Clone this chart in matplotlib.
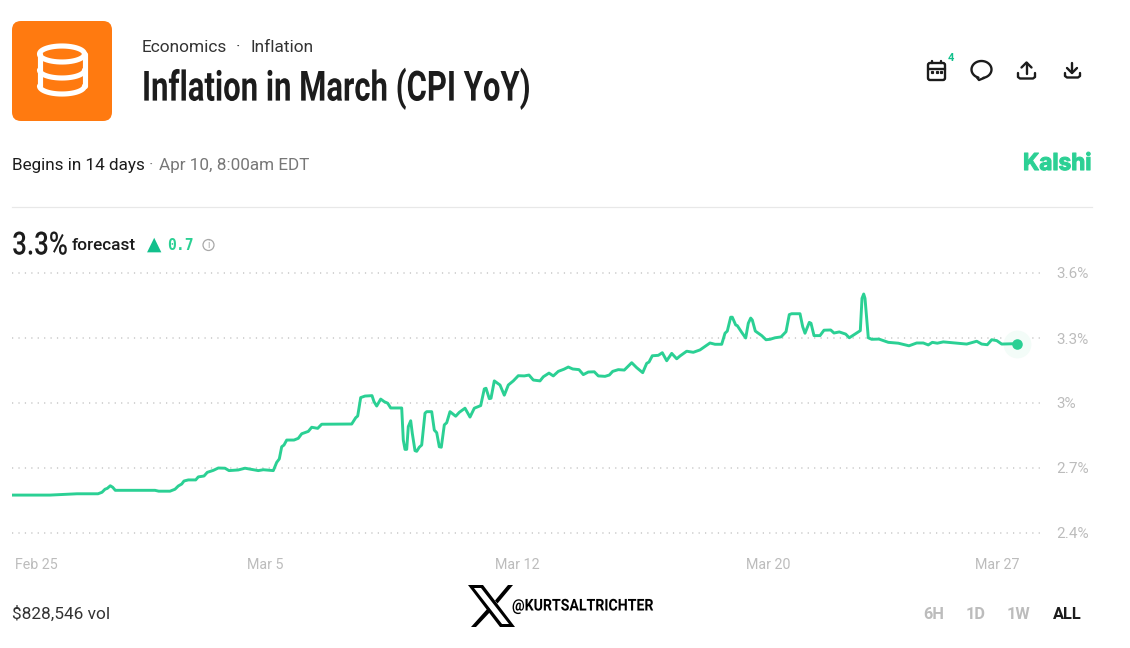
import numpy as np
import matplotlib
matplotlib.use("Agg")
import matplotlib.pyplot as plt
from matplotlib.patches import Circle, FancyBboxPatch, Polygon
from matplotlib.patheffects import AbstractPathEffect
from matplotlib.transforms import Affine2D

# Forecast line: position along the time axis and CPI YoY forecast (%)
positions = [0, 38, 65, 86, 90, 93, 95.3, 98.3, 100.7, 103.3, 143, 146.7, 158, 163, 166.3, 169.7,
             172, 176.3, 183.7, 186.3, 192, 195.3, 201.3, 206.3, 213, 217, 226.3, 233, 238, 246.3,
             251.3, 261.3, 264.7, 267.3, 269.7, 272, 274.7, 282, 286.3, 289.7, 296.3, 299.7, 305.7,
             309.7, 339.7, 343.7, 345.7, 348.7, 353, 360, 362, 364.7, 368.7, 372.3, 375.7, 378.7,
             389.7, 391.3, 393, 394.7, 396.3, 398.7, 400.3, 403, 404.7, 407.3, 409.7, 413, 414.7,
             419.7, 422.3, 424.7, 427.3, 429.3, 432.3, 434.7, 438, 443.7, 447.3, 453, 458, 462.3,
             468.7, 472.3, 474, 477.3, 479, 482.3, 488, 492.3, 496.3, 501.3, 506.3, 512.3, 517,
             521.3, 528, 531.3, 537, 541.3, 546.3, 552, 556.3, 560.7, 567, 571.3, 576.3, 582.3,
             586.3, 593, 597.3, 600.7, 606.3, 612.3, 615.3, 619.7, 624.7, 630.7, 634.7, 637, 640.3,
             646.3, 650.3, 654.7, 659.7, 664.7, 668, 674.7, 681.3, 688, 698, 703, 709.7, 713, 715.3,
             718.7, 720.3, 723.7, 725.3, 729.7, 733.7, 736.3, 738.7, 740.3, 743.3, 749.7, 754, 758,
             763, 769, 774, 777.3, 779.7, 788, 790.7, 793, 797.3, 799, 802, 808, 812, 818.7, 822,
             827.3, 833.7, 837.3, 844.7, 848.3, 850, 851.7, 853, 856.3, 859.7, 867, 876.3, 886.3,
             897, 904.7, 911.3, 916.3, 920.3, 925.3, 931.3, 954.7, 964.7, 969.7, 975.3, 979.7,
             984.7, 989.7, 1005.3]
forecast = [2.575, 2.575, 2.581, 2.581, 2.588, 2.602, 2.606, 2.618, 2.611, 2.597, 2.597, 2.593,
            2.593, 2.602, 2.617, 2.626, 2.640, 2.645, 2.645, 2.659, 2.663, 2.680, 2.689, 2.700,
            2.699, 2.688, 2.691, 2.699, 2.695, 2.688, 2.692, 2.688, 2.726, 2.742, 2.798, 2.806,
            2.829, 2.829, 2.837, 2.858, 2.869, 2.888, 2.883, 2.902, 2.903, 2.932, 2.940, 3.025,
            3.032, 3.034, 3.006, 2.986, 3.018, 3.006, 2.999, 2.977, 2.977, 2.829, 2.786, 2.786,
            2.891, 2.918, 2.860, 2.780, 2.777, 2.796, 2.806, 2.953, 2.960, 2.960, 2.875, 2.863,
            2.798, 2.796, 2.899, 2.909, 2.960, 2.939, 2.957, 2.976, 2.935, 2.976, 2.988, 3.065,
            3.068, 3.020, 3.022, 3.102, 3.083, 3.036, 3.083, 3.102, 3.126, 3.125, 3.129, 3.106,
            3.102, 3.121, 3.138, 3.125, 3.146, 3.156, 3.166, 3.157, 3.154, 3.131, 3.143, 3.144,
            3.125, 3.123, 3.129, 3.146, 3.154, 3.152, 3.166, 3.186, 3.163, 3.140, 3.183, 3.189,
            3.218, 3.220, 3.232, 3.195, 3.229, 3.204, 3.217, 3.239, 3.234, 3.245, 3.277, 3.271,
            3.271, 3.322, 3.332, 3.396, 3.396, 3.360, 3.357, 3.326, 3.300, 3.368, 3.392, 3.383,
            3.332, 3.311, 3.292, 3.294, 3.301, 3.305, 3.329, 3.408, 3.412, 3.412, 3.352, 3.322,
            3.372, 3.368, 3.311, 3.311, 3.336, 3.337, 3.323, 3.328, 3.318, 3.301, 3.323, 3.334,
            3.483, 3.503, 3.483, 3.301, 3.294, 3.295, 3.280, 3.276, 3.264, 3.277, 3.277, 3.268,
            3.280, 3.276, 3.282, 3.272, 3.285, 3.272, 3.269, 3.292, 3.288, 3.272, 3.274]

y_ticks = [2.4, 2.7, 3.0, 3.3, 3.6]
y_labels = ["2.4%", "2.7%", "3%", "3.3%", "3.6%"]
x_ticks = [24, 253, 505, 756, 985]
x_labels = ["Feb 25", "Mar 5", "Mar 12", "Mar 20", "Mar 27"]
ranges = ["6H", "1D", "1W", "ALL"]

GREEN = "#2bd094"
GREY = "#bcbcbc"
DARK = "#1c1c1c"
W, H = 1130, 648
SANS = ["Roboto", "DejaVu Sans"]

fig = plt.figure(figsize=(W / 100, H / 100), dpi=100, facecolor="white")

# page furniture in pixel coordinates
page = fig.add_axes([0, 0, 1, 1])
page.set_xlim(0, W)
page.set_ylim(H, 0)
page.axis("off")


class Condense(AbstractPathEffect):
    # no condensed family is installed, so squeeze the glyphs sideways around an anchor x
    def __init__(self, x_px, factor, bold=0):
        super().__init__()
        self.x_px = x_px
        self.factor = factor
        self.bold = bold

    def draw_path(self, renderer, gc, tpath, affine, rgbFace=None):
        squeezed = affine + Affine2D().translate(-self.x_px, 0).scale(self.factor, 1).translate(self.x_px, 0)
        if self.bold:
            gc0 = renderer.new_gc()
            gc0.copy_properties(gc)
            gc0.set_linewidth(self.bold)
            gc0.set_foreground(rgbFace)
            renderer.draw_path(gc0, tpath, squeezed, rgbFace)
            gc0.restore()
        else:
            renderer.draw_path(gc, tpath, squeezed, rgbFace)


def stroke(xs, ys, lw=2.0, color=DARK):
    page.plot(xs, ys, color=color, lw=lw, solid_capstyle="round", solid_joinstyle="round")


def arc(cx, cy, rx, ry, start, end, lw, color):
    t = np.linspace(start, end, 50)
    stroke(cx + rx * np.cos(t), cy + ry * np.sin(t), lw, color)


# orange tile with database icon
page.add_patch(FancyBboxPatch((20, 29), 84, 84, boxstyle="round,pad=8,rounding_size=9",
                              fc="#ff7a10", ec="none"))
arc(62, 54, 22.5, 8, 0, 2 * np.pi, 3.7, "white")
stroke([39.5, 39.5], [54, 86], 3.7, "white")
stroke([84.5, 84.5], [54, 86], 3.7, "white")
arc(62, 70, 22.5, 8, 0, np.pi, 3.7, "white")
arc(62, 86, 22.5, 8, 0, np.pi, 3.7, "white")

# header text
page.text(142, 47, "Economics", fontsize=12.4, color="#333333", family=SANS, va="center")
page.text(236, 47, "·", fontsize=12.4, color="#333333", family=SANS, va="center")
page.text(251, 47, "Inflation", fontsize=12.4, color="#333333", family=SANS, va="center")
page.text(142, 88.5, "Inflation in March (CPI YoY)", fontsize=30, color=DARK, family=SANS,
          weight="bold", va="center", path_effects=[Condense(142, 0.745)])
page.text(12, 165.5, "Begins in 14 days", fontsize=12.3, color=DARK, family=SANS, va="center")
page.text(149, 165.5, "·", fontsize=12.3, color="#777777", family=SANS, va="center")
page.text(159, 165.5, "Apr 10, 8:00am EDT", fontsize=12.3, color="#777777", family=SANS, va="center")
page.text(1023, 164, "Kalshi", fontsize=16.8, color=GREEN, family=["Inter", "DejaVu Sans"],
          weight="bold", ha="left", va="center", path_effects=[Condense(1023, 0.97, bold=0.8)])
page.plot([12, 1092], [207, 207], color="#e8e8e8", lw=0.9)

# forecast readout
page.text(68, 246, "3.3%", fontsize=23, color=DARK, family=SANS, weight="medium", ha="right", va="center",
          path_effects=[Condense(68, 0.81)])
page.text(72, 246, "forecast", fontsize=12.4, color=DARK, family=SANS, weight="medium", va="center")
page.text(154, 244.5, "▲", fontsize=13.5, color="#12c08c", family="DejaVu Sans", ha="center", va="center")
page.text(167, 246, "0.7", fontsize=10.6, color=GREEN, family="DejaVu Sans Mono", weight="bold",
          va="center")
page.add_patch(Circle((208.5, 245), 5.5, fc="none", ec="#a8a8a8", lw=0.9))
page.text(208.5, 245, "i", fontsize=7, color="#a8a8a8", family=SANS, ha="center", va="center")

# calendar icon
page.add_patch(FancyBboxPatch((929, 64), 15, 15, boxstyle="round,pad=1,rounding_size=2",
                              fc="none", ec=DARK, lw=1.7))
stroke([929, 945], [68.5, 68.5], 1.7)
stroke([932, 932], [60.5, 63], 1.7)
stroke([941, 941], [60.5, 63], 1.7)
page.plot([932, 936.5, 941], [72, 72, 72], ls="none", marker="s", ms=1.3, color=DARK)
page.text(951, 58, "4", fontsize=8, color="#12c08c", family=SANS, weight="bold", ha="center", va="center")

# comment icon
arc(981.5, 69.5, 10, 8.5, 2.0 * np.pi * 0.30, 2 * np.pi * 1.22, 1.7, DARK)
stroke([977, 979, 984], [77.5, 80, 78], 1.7)

# upload and download icons
stroke([1018, 1018, 1020, 1033, 1035, 1035], [73, 77, 78.5, 78.5, 77, 73], 1.7)
stroke([1026.5, 1026.5], [63, 74], 1.7)
stroke([1021.5, 1026.5, 1031.5], [67.5, 62.5, 67.5], 1.7)
stroke([1065, 1065, 1067, 1078, 1080, 1080], [73, 76, 77.5, 77.5, 76, 73], 1.7)
stroke([1072, 1072], [63, 72.5], 1.7)
stroke([1067, 1072, 1077], [68, 73, 68], 1.7)

# footer
page.text(12, 614, "$828,546 vol", fontsize=12.4, color="#333333", family=SANS, va="center")
for label, x in zip(ranges, [934, 976, 1019, 1067]):
    page.text(x, 614.5, label, fontsize=11.8, color=DARK if label == "ALL" else GREY, family=SANS,
              weight="bold", ha="center", va="center")

# X logo and handle
page.add_patch(Polygon([(468, 585), (483, 585), (515, 627), (500, 627)], fc="black", ec="none"))
page.add_patch(Polygon([(474, 588), (481, 588), (509, 624), (502, 624)], fc="white", ec="none"))
page.add_patch(Polygon([(471, 627), (488.5, 607.5), (491, 611), (476, 627)], fc="black", ec="none"))
page.add_patch(Polygon([(495, 600.5), (508, 585), (513, 585), (497.5, 603.5)], fc="black", ec="none"))
page.text(512, 606, "@KURTSALTRICHTER", fontsize=11.7, color="black", family=SANS, weight="bold",
          va="center", path_effects=[Condense(512, 0.87)])

# chart area: 2.4-3.6 spans y 533-273, position 0 sits at x 12
ax = fig.add_axes([12 / W, 1 - 533 / H, 1033 / W, 260 / H])
ax.patch.set_alpha(0)
ax.plot(positions, forecast, color=GREEN, lw=2.1, solid_joinstyle="round", zorder=3)
ax.plot(positions[-1], forecast[-1], marker="o", ms=20, mfc="#f3fcf8", mec="none", zorder=2, clip_on=False)
ax.plot(positions[-1], forecast[-1], marker="o", ms=7.6, mfc=GREEN, mec="none", zorder=4, clip_on=False)
ax.set_xlim(0, 1033)
ax.set_ylim(2.4, 3.6)
ax.set_yticks(y_ticks)
ax.set_yticklabels(y_labels, fontsize=11, color=GREY, family=SANS)
ax.yaxis.tick_right()
ax.set_xticks(x_ticks)
ax.set_xticklabels(x_labels, fontsize=10.3, color=GREY, family=SANS)
ax.tick_params(axis="both", length=0)
ax.tick_params(axis="y", pad=8.4)
ax.tick_params(axis="x", pad=18)
ax.grid(axis="y", color="#c8c8c8", lw=1.1, linestyle=(0, (0.8, 3.4)), clip_on=False)
ax.set_axisbelow(True)
for spine in ax.spines.values():
    spine.set_visible(False)

fig.savefig("out.png", dpi=100)
